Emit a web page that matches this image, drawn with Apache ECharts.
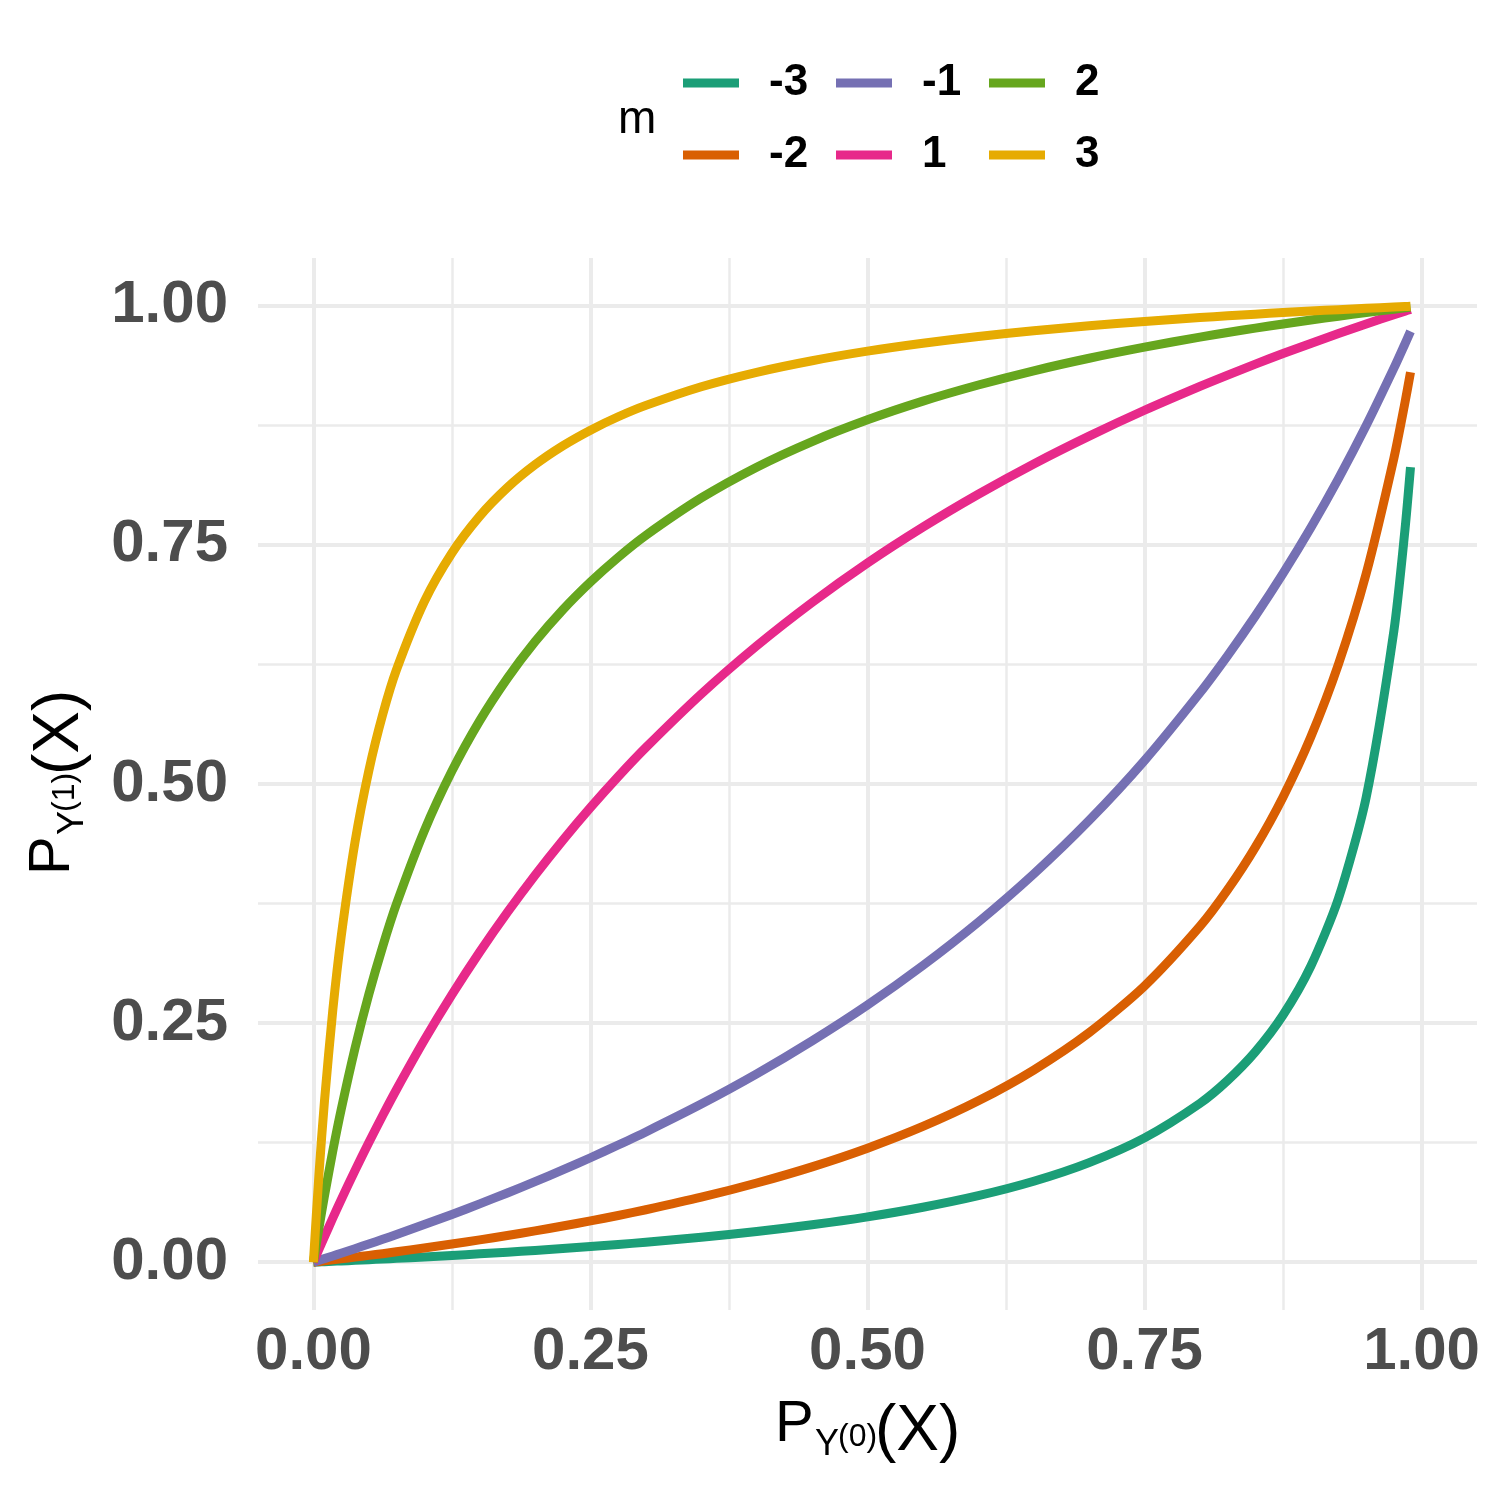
<!DOCTYPE html>
<html>
<head>
<meta charset="utf-8">
<script src="https://cdn.jsdelivr.net/npm/echarts@6/dist/echarts.min.js"></script>
<style>html,body{margin:0;padding:0;background:#fff;}#c{width:1500px;height:1500px;}</style>
</head>
<body>
<div id="c"></div>
<script>
// x values: P_Y(0)(X)
var xVals = [0, 0.005, 0.01, 0.0175, 0.025, 0.0375, 0.05, 0.0625, 0.075, 0.1, 0.125, 0.15, 0.175, 0.2, 0.225, 0.25, 0.275, 0.3, 0.35, 0.4, 0.45, 0.5, 0.55, 0.6, 0.65, 0.7, 0.75, 0.8, 0.825, 0.85, 0.875, 0.9, 0.925, 0.95, 0.975, 0.985, 0.99];
// y values per m: P_Y(1)(X)
var yM3n = [0, 0.0003, 0.0005, 0.0009, 0.0013, 0.0019, 0.0026, 0.0033, 0.0040, 0.0055, 0.0071, 0.0087, 0.0105, 0.0123, 0.0142, 0.0163, 0.0185, 0.0209, 0.0261, 0.0321, 0.0391, 0.0474, 0.0574, 0.0695, 0.0846, 0.1041, 0.1300, 0.1661, 0.1901, 0.2200, 0.2584, 0.3094, 0.3804, 0.4861, 0.6601, 0.7658, 0.8313];
var yM2n = [0, 0.0007, 0.0014, 0.0024, 0.0035, 0.0053, 0.0071, 0.0089, 0.0109, 0.0148, 0.0190, 0.0233, 0.0279, 0.0327, 0.0378, 0.0432, 0.0488, 0.0548, 0.0679, 0.0828, 0.0997, 0.1192, 0.1419, 0.1687, 0.2009, 0.2400, 0.2888, 0.3512, 0.3895, 0.4340, 0.4865, 0.5491, 0.6253, 0.7200, 0.8407, 0.8989, 0.9305];
var yM1n = [0, 0.0018, 0.0037, 0.0065, 0.0093, 0.0141, 0.0190, 0.0239, 0.0290, 0.0393, 0.0499, 0.0610, 0.0724, 0.0842, 0.0965, 0.1092, 0.1225, 0.1362, 0.1653, 0.1969, 0.2314, 0.2689, 0.3102, 0.3556, 0.4059, 0.4619, 0.5246, 0.5954, 0.6343, 0.6758, 0.7203, 0.7680, 0.8194, 0.8748, 0.9348, 0.9603, 0.9733];
var yM1p = [0, 0.0135, 0.0267, 0.0462, 0.0652, 0.0958, 0.1252, 0.1534, 0.1806, 0.2320, 0.2797, 0.3242, 0.3657, 0.4046, 0.4411, 0.4754, 0.5077, 0.5381, 0.5941, 0.6444, 0.6898, 0.7311, 0.7686, 0.8030, 0.8347, 0.8638, 0.8908, 0.9158, 0.9276, 0.9390, 0.9501, 0.9607, 0.9710, 0.9810, 0.9907, 0.9944, 0.9963];
var yM2p = [0, 0.0358, 0.0695, 0.1163, 0.1593, 0.2235, 0.2800, 0.3300, 0.3747, 0.4509, 0.5135, 0.5660, 0.6105, 0.6488, 0.6821, 0.7112, 0.7370, 0.7600, 0.7991, 0.8313, 0.8581, 0.8808, 0.9003, 0.9172, 0.9321, 0.9452, 0.9568, 0.9673, 0.9721, 0.9767, 0.9810, 0.9852, 0.9891, 0.9929, 0.9965, 0.9979, 0.9986];
var yM3p = [0, 0.0917, 0.1687, 0.2635, 0.3399, 0.4390, 0.5139, 0.5725, 0.6196, 0.6906, 0.7416, 0.7800, 0.8099, 0.8339, 0.8536, 0.8700, 0.8840, 0.8959, 0.9154, 0.9305, 0.9426, 0.9526, 0.9609, 0.9679, 0.9739, 0.9791, 0.9837, 0.9877, 0.9895, 0.9913, 0.9929, 0.9945, 0.9960, 0.9974, 0.9987, 0.9992, 0.9995];

var seriesNames = ['-3', '-2', '-1', '1', '2', '3'];
var seriesYs = [yM3n, yM2n, yM1n, yM1p, yM2p, yM3p];
var colors = ['#1B9E77', '#D95F02', '#7570B3', '#E7298A', '#66A61E', '#E6AB02'];
var majorTicks = [0, 0.25, 0.5, 0.75, 1];
var minorTicks = [0.125, 0.375, 0.625, 0.875];

var gridColor = '#EBEBEB';
function gridLines(axisKey) {
  var d = [];
  majorTicks.forEach(function (v) { var o = {lineStyle: {width: 4, color: gridColor, type: 'solid'}}; o[axisKey] = v; d.push(o); });
  minorTicks.forEach(function (v) { var o = {lineStyle: {width: 2.5, color: gridColor, type: 'solid'}}; o[axisKey] = v; d.push(o); });
  return d;
}

var series = [{
  type: 'line', name: '__grid', data: [[0, 0]], showSymbol: false, silent: true, z: 1,
  lineStyle: {opacity: 0}, legendHoverLink: false,
  markLine: {silent: true, symbol: 'none', label: {show: false}, animation: false, precision: 6, z: 1,
    data: gridLines('xAxis').concat(gridLines('yAxis'))}
}];
seriesNames.forEach(function (n, i) {
  series.push({
    type: 'line', name: n, z: 10 + i,
    data: xVals.map(function (x, j) { return [x, seriesYs[i][j]]; }),
    showSymbol: false, symbol: 'none',
    smooth: 0.25,
    color: colors[i],
    lineStyle: {width: 9, color: colors[i], cap: 'butt', join: 'round'}
  });
});

function tickFmt(v) {
  var q = v / 0.25;
  if (Math.abs(q - Math.round(q)) < 1e-6 && v > -0.01 && v < 1.01) return (Math.round(q) * 0.25).toFixed(2);
  return '';
}

var legendText = {fontSize: 44, fontWeight: 'bold', color: '#000', fontFamily: 'Liberation Sans, Arial, sans-serif',
  lineHeight: 44, rich: {a: {fontSize: 44, fontWeight: 'bold', color: '#000', lineHeight: 44, padding: [0, 0, 0, 25], fontFamily: 'Liberation Sans, Arial, sans-serif'}}};
function mkLegend(names, left) {
  return {orient: 'vertical', left: left, top: 61, itemWidth: 56, itemHeight: 9, icon: 'rect', itemGap: 28,
    data: names, textStyle: legendText, formatter: '{a|{name}}', selectedMode: false, padding: 0};
}

var titleFont = 'Liberation Sans, Arial, sans-serif';
function titlePieces() {
  return [
    {type: 'text', x: -92, y: -7, style: {text: 'P', font: '58px ' + titleFont, fill: '#000', align: 'left', verticalAlign: 'middle'}},
    {type: 'text', x: -52, y: 13, style: {text: 'Y', font: '36px ' + titleFont, fill: '#000', align: 'left', verticalAlign: 'middle'}},
    {type: 'text', x: -29, y: 5, style: {text: '(0)', font: '32px ' + titleFont, fill: '#000', align: 'left', verticalAlign: 'middle'}},
    {type: 'text', x: 8, y: 0, style: {text: '(X)', font: '64px ' + titleFont, fill: '#000', align: 'left', verticalAlign: 'middle'}}
  ];
}
var yPieces = titlePieces();
yPieces[2].style.text = '(1)';

var chart = echarts.init(document.getElementById('c'), null, {renderer: 'canvas'});
chart.setOption({
  animation: false,
  backgroundColor: '#ffffff',
  grid: {left: 258, right: 23, top: 258, bottom: 190, containLabel: false},
  xAxis: {
    type: 'value', min: -0.05, max: 1.05, interval: 0.05,
    axisLine: {show: false}, axisTick: {show: false}, splitLine: {show: false},
    axisLabel: {formatter: tickFmt, fontSize: 60, fontWeight: 'bold', color: '#4D4D4D', margin: 12, fontFamily: titleFont, showMinLabel: true, showMaxLabel: true, hideOverlap: false}
  },
  yAxis: {
    type: 'value', min: -0.05, max: 1.05, interval: 0.05,
    axisLine: {show: false}, axisTick: {show: false}, splitLine: {show: false},
    axisLabel: {formatter: tickFmt, fontSize: 60, fontWeight: 'bold', color: '#4D4D4D', margin: 30, fontFamily: titleFont, showMinLabel: true, showMaxLabel: true, hideOverlap: false}
  },
  legend: [mkLegend(['-3', '-2'], 683), mkLegend(['-1', '1'], 836), mkLegend(['2', '3'], 989)],
  graphic: [
    {type: 'text', left: 618, top: 97, style: {text: 'm', font: '46px ' + titleFont, fill: '#000'}},
    {type: 'group', x: 867, y: 1432, children: titlePieces()},
    {type: 'group', x: 60, y: 783, rotation: Math.PI / 2, children: yPieces}
  ],
  series: series
});
</script>
</body>
</html>
